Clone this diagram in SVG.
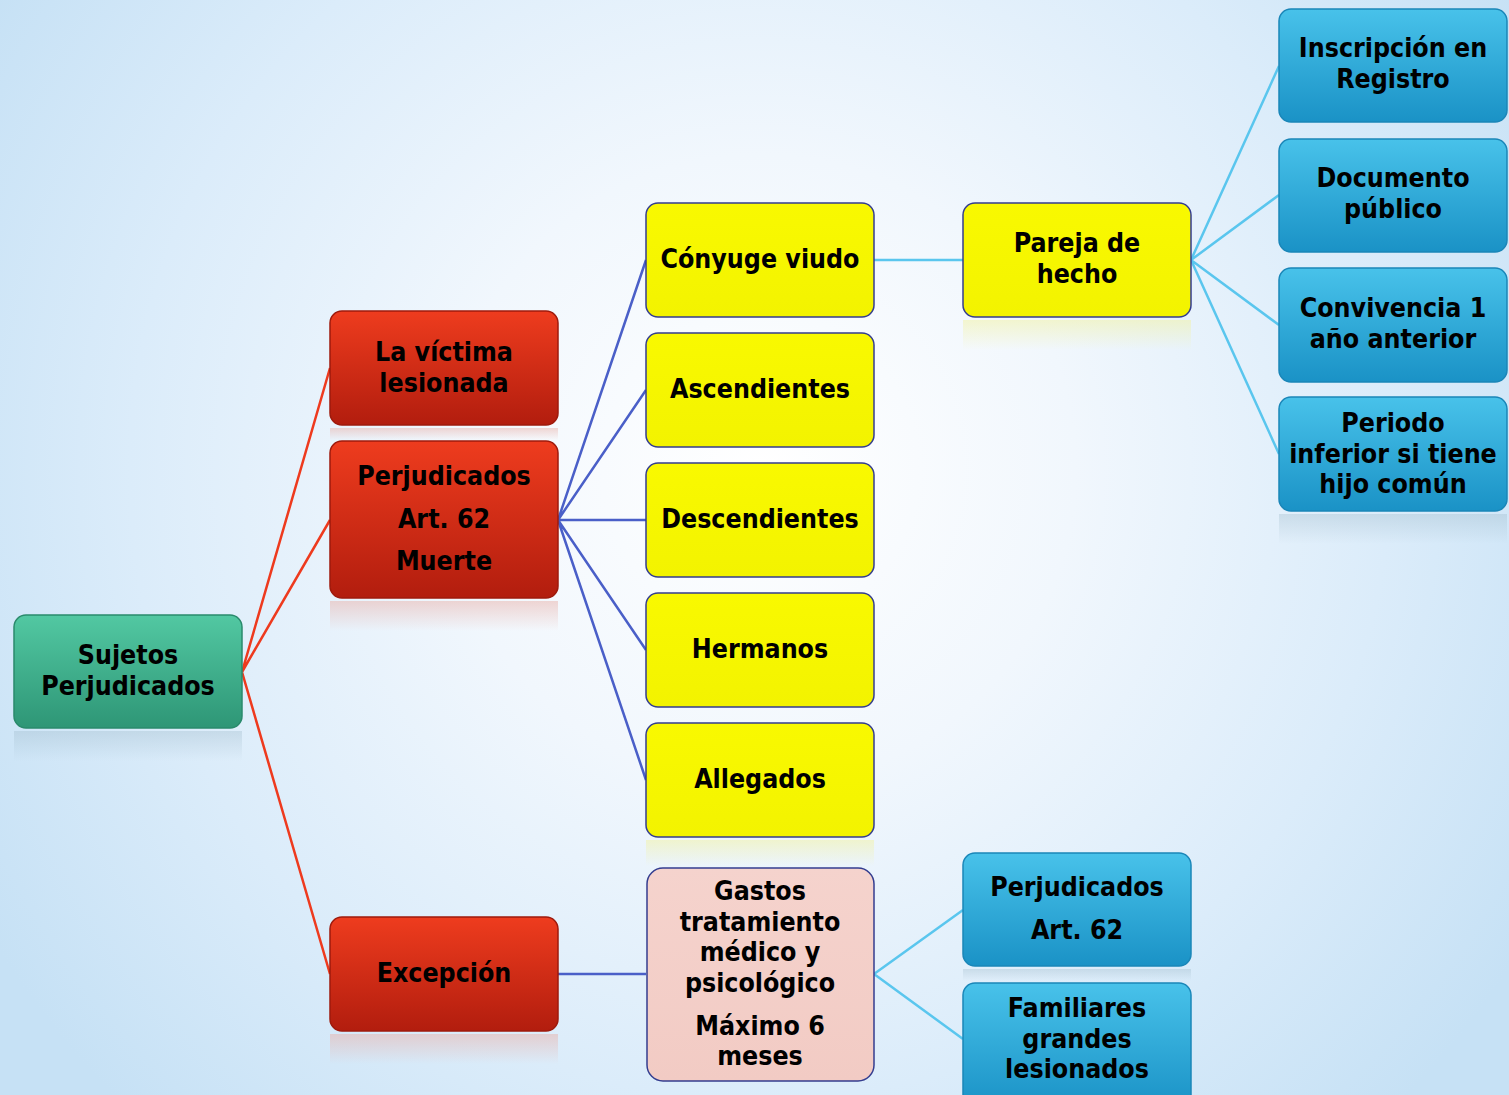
<svg xmlns="http://www.w3.org/2000/svg" width="1509" height="1095" viewBox="0 0 1509 1095">
<defs>
<radialGradient id="bg" cx="760" cy="470" r="900" gradientUnits="userSpaceOnUse">
<stop offset="0" stop-color="#ffffff"/>
<stop offset="0.35" stop-color="#f1f7fd"/>
<stop offset="0.7" stop-color="#dbecfa"/>
<stop offset="1" stop-color="#c6e1f5"/>
</radialGradient>
<linearGradient id="gGreen" x1="0" y1="0" x2="0" y2="1"><stop offset="0" stop-color="#52c8a2"/><stop offset="1" stop-color="#2e9676"/></linearGradient>
<linearGradient id="gRed" x1="0" y1="0" x2="0" y2="1"><stop offset="0" stop-color="#ee3c1e"/><stop offset="1" stop-color="#b21d0e"/></linearGradient>
<linearGradient id="gYellow" x1="0" y1="0" x2="0" y2="1"><stop offset="0" stop-color="#f9f900"/><stop offset="1" stop-color="#f3f300"/></linearGradient>
<linearGradient id="gBlue" x1="0" y1="0" x2="0" y2="1"><stop offset="0" stop-color="#48c2ea"/><stop offset="1" stop-color="#1a92c6"/></linearGradient>
<linearGradient id="gPink" x1="0" y1="0" x2="0" y2="1"><stop offset="0" stop-color="#f5d3cd"/><stop offset="1" stop-color="#f2cbc4"/></linearGradient>
<linearGradient id="refl" x1="0" y1="0" x2="0" y2="1"><stop offset="0" stop-color="#9cb8c8" stop-opacity="0.35"/><stop offset="1" stop-color="#9cb8c8" stop-opacity="0"/></linearGradient>
<linearGradient id="reflY" x1="0" y1="0" x2="0" y2="1"><stop offset="0" stop-color="#f2f2a0" stop-opacity="0.5"/><stop offset="1" stop-color="#f2f2a0" stop-opacity="0"/></linearGradient>
<linearGradient id="reflR" x1="0" y1="0" x2="0" y2="1"><stop offset="0" stop-color="#e8b0a8" stop-opacity="0.5"/><stop offset="1" stop-color="#e8b0a8" stop-opacity="0"/></linearGradient>
</defs>
<style>
.t{font-family:"DejaVu Sans Condensed","DejaVu Sans",sans-serif;font-weight:bold;font-size:26.5px;fill:#000;text-anchor:middle;}
.green{fill:url(#gGreen);stroke:#2a8a6c;stroke-width:1.5;}
.red{fill:url(#gRed);stroke:#9e1a0c;stroke-width:1.5;}
.yellow{fill:url(#gYellow);stroke:#343d8f;stroke-width:1.5;}
.blue{fill:url(#gBlue);stroke:#1a86b8;stroke-width:1.5;}
.pink{fill:url(#gPink);stroke:#343d8f;stroke-width:1.5;}
.c1{stroke:#ee3a1e;stroke-width:2.5;fill:none;}
.c2{stroke:#4a5fc8;stroke-width:2.5;fill:none;}
.c3{stroke:#5ac6ee;stroke-width:2.5;fill:none;}
</style>
<rect width="1509" height="1095" fill="url(#bg)"/>

<g id="reflections">
<rect x="14" y="731" width="228" height="30" fill="url(#refl)"/>
<rect x="330" y="428" width="228" height="12" fill="url(#reflR)"/>
<rect x="330" y="601" width="228" height="30" fill="url(#reflR)"/>
<rect x="330" y="1034" width="228" height="30" fill="url(#reflR)"/>
<rect x="646" y="840" width="228" height="26" fill="url(#reflY)"/>
<rect x="963" y="320" width="228" height="30" fill="url(#reflY)"/>
<rect x="1279" y="514" width="228" height="30" fill="url(#refl)"/>
<rect x="963" y="969" width="228" height="12" fill="url(#refl)"/>
</g>

<g id="connectors">
<path class="c1" d="M242 672 L330 368 M242 672 L330 520 M242 672 L330 974"/>
<path class="c2" d="M558 520 L646 260 M558 520 L646 390 M558 520 L646 520 M558 520 L646 650 M558 520 L646 780 M558 974 L646 974"/>
<path class="c3" d="M874 260 L963 260 M1191 260 L1279 66 M1191 260 L1279 195 M1191 260 L1279 325 M1191 260 L1279 454 M874 974 L963 910 M874 974 L963 1039"/>
</g>

<g id="n-sujetos"><rect class="green" x="14" y="615" width="228" height="113" rx="12"/><text class="t" x="128" y="664">Sujetos</text><text class="t" x="128" y="695">Perjudicados</text></g>

<g id="n-victima"><rect class="red" x="330" y="311" width="228" height="114" rx="12"/><text class="t" x="444" y="361">La víctima</text><text class="t" x="444" y="392">lesionada</text></g>
<g id="n-perj62m"><rect class="red" x="330" y="441" width="228" height="157" rx="12"/><text class="t" x="444" y="485">Perjudicados</text><text class="t" x="444" y="528">Art. 62</text><text class="t" x="444" y="570">Muerte</text></g>
<g id="n-excepcion"><rect class="red" x="330" y="917" width="228" height="114" rx="12"/><text class="t" x="444" y="982">Excepción</text></g>

<g id="n-conyuge"><rect class="yellow" x="646" y="203" width="228" height="114" rx="12"/><text class="t" x="760" y="268">Cónyuge viudo</text></g>
<g id="n-ascendientes"><rect class="yellow" x="646" y="333" width="228" height="114" rx="12"/><text class="t" x="760" y="398">Ascendientes</text></g>
<g id="n-descendientes"><rect class="yellow" x="646" y="463" width="228" height="114" rx="12"/><text class="t" x="760" y="528">Descendientes</text></g>
<g id="n-hermanos"><rect class="yellow" x="646" y="593" width="228" height="114" rx="12"/><text class="t" x="760" y="658">Hermanos</text></g>
<g id="n-allegados"><rect class="yellow" x="646" y="723" width="228" height="114" rx="12"/><text class="t" x="760" y="788">Allegados</text></g>

<g id="n-gastos"><rect class="pink" x="647" y="868" width="227" height="213" rx="16"/><text class="t" x="760" y="900">Gastos</text><text class="t" x="760" y="931">tratamiento</text><text class="t" x="760" y="961">médico y</text><text class="t" x="760" y="992">psicológico</text><text class="t" x="760" y="1035">Máximo 6</text><text class="t" x="760" y="1065">meses</text></g>

<g id="n-pareja"><rect class="yellow" x="963" y="203" width="228" height="114" rx="12"/><text class="t" x="1077" y="252">Pareja de</text><text class="t" x="1077" y="283">hecho</text></g>

<g id="n-inscripcion"><rect class="blue" x="1279" y="9" width="228" height="113" rx="12"/><text class="t" x="1393" y="57">Inscripción en</text><text class="t" x="1393" y="88">Registro</text></g>
<g id="n-documento"><rect class="blue" x="1279" y="139" width="228" height="113" rx="12"/><text class="t" x="1393" y="187">Documento</text><text class="t" x="1393" y="218">público</text></g>
<g id="n-convivencia"><rect class="blue" x="1279" y="268" width="228" height="114" rx="12"/><text class="t" x="1393" y="317">Convivencia 1</text><text class="t" x="1393" y="348">año anterior</text></g>
<g id="n-periodo"><rect class="blue" x="1279" y="397" width="228" height="114" rx="12"/><text class="t" x="1393" y="432">Periodo</text><text class="t" x="1393" y="463">inferior si tiene</text><text class="t" x="1393" y="493">hijo común</text></g>

<g id="n-perj62"><rect class="blue" x="963" y="853" width="228" height="113" rx="12"/><text class="t" x="1077" y="896">Perjudicados</text><text class="t" x="1077" y="939">Art. 62</text></g>
<g id="n-familiares"><rect class="blue" x="963" y="983" width="228" height="125" rx="12"/><text class="t" x="1077" y="1017">Familiares</text><text class="t" x="1077" y="1048">grandes</text><text class="t" x="1077" y="1078">lesionados</text></g>
</svg>
